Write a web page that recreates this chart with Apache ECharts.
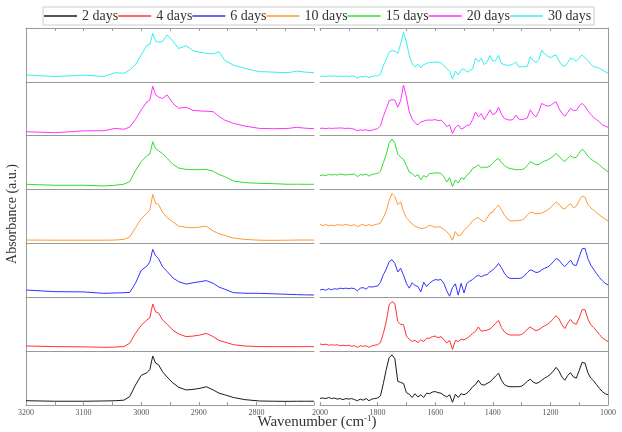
<!DOCTYPE html>
<html><head><meta charset="utf-8">
<script src="https://cdn.jsdelivr.net/npm/echarts@6/dist/echarts.min.js"></script>
<style>html,body{margin:0;padding:0;background:#fff}#c{width:622px;height:432px}</style>
</head><body><div id="c"></div>
<script>
const days = ['2 days','4 days','6 days','10 days','15 days','20 days','30 days'];
const colors = ['#1a1a1a','#ff3333','#3333ff','#ff9933','#33dd33','#ff33ff','#33f0f0'];
const leftTickLabels = [3200,3100,3000,2900,2800];
const rightTickLabels = [2000,1800,1600,1400,1200,1000];

const wnLeft = [3200,3150,3100,3065,3045, 3030,3020,3010,3000,2990, 2985,2980,2975,2970,2963,
  2955,2945,2935,2922,2910, 2898,2887,2875,2865,2855, 2840,2820,2795,2770,2745, 2730,2715,2700];
const left30 = [0.128,0.10,0.125,0.10,0.17, 0.16,0.22,0.32,0.50,0.68, 0.70,0.90,0.76,0.74,0.75,
  0.87,0.76,0.62,0.67,0.58, 0.55,0.53,0.52,0.56,0.40, 0.31,0.25,0.19,0.18,0.17, 0.20,0.18,0.17];
const left20 = [0.074,0.056,0.09,0.093,0.136, 0.12,0.16,0.30,0.48,0.63, 0.66,0.92,0.76,0.72,0.69,
  0.76,0.60,0.51,0.53,0.47, 0.46,0.455,0.446,0.36,0.29, 0.23,0.18,0.136,0.13,0.136, 0.155,0.14,0.13];
const left15 = [0.098,0.08,0.08,0.067,0.08, 0.10,0.147,0.35,0.52,0.63, 0.66,0.89,0.76,0.72,0.67,
  0.58,0.47,0.40,0.375,0.37, 0.37,0.375,0.34,0.28,0.24, 0.16,0.13,0.115,0.11,0.098, 0.10,0.098,0.098];
const left10 = [0.063,0.06,0.06,0.06,0.063, 0.075,0.12,0.29,0.46,0.56, 0.62,0.91,0.74,0.73,0.58,
  0.48,0.40,0.32,0.30,0.29, 0.305,0.32,0.23,0.18,0.15, 0.10,0.075,0.06,0.057,0.06, 0.063,0.063,0.063];
const left6 = [0.135,0.105,0.10,0.073,0.08, 0.085,0.09,0.26,0.50,0.58, 0.66,0.89,0.77,0.72,0.57,
  0.48,0.36,0.29,0.245,0.27, 0.29,0.31,0.26,0.19,0.15, 0.086,0.075,0.073,0.065,0.055, 0.05,0.045,0.043];
const left4 = [0.096,0.085,0.08,0.072,0.075, 0.085,0.146,0.33,0.48,0.58, 0.62,0.875,0.73,0.71,0.58,
  0.50,0.39,0.32,0.27,0.28, 0.30,0.33,0.27,0.20,0.17, 0.12,0.095,0.085,0.084,0.084, 0.084,0.084,0.084];
const left2 = [0.08,0.07,0.07,0.075,0.08, 0.09,0.155,0.37,0.55,0.60, 0.66,0.91,0.78,0.75,0.62,
  0.52,0.41,0.33,0.28,0.29, 0.31,0.34,0.28,0.22,0.19, 0.14,0.10,0.075,0.07,0.068, 0.07,0.07,0.07];

const wnRight = [2000,1990,1980,1970,1960,1950,1940,1930,1920,1910,
  1900,1890,1880,1870,1860,1850,1840,1830,1820,1810,
  1800,1790,1780,1770,1760,1750,1740,1730,1720,1710,
  1700,1690,1680,1670,1660,1650,1640,1630,1620,1610,
  1600,1590,1580,1570,1560,1550,1540,1530,1520,1510,
  1500,1490,1480,1470,1460,1450,1440,1430,1420,1410,
  1400,1390,1380,1370,1360,1350,1340,1330,1320,1310,
  1300,1290,1280,1270,1260,1250,1240,1230,1220,1210,
  1200,1190,1180,1170,1160,1150,1140,1130,1120,1110,
  1100,1090,1080,1070,1060,1050,1040,1030,1020,1010,1000];
const right30 = [0.10,0.11,0.10,0.11,0.10,0.11,0.10,0.11,0.10,0.11,
  0.10,0.11,0.10,0.07,0.10,0.09,0.11,0.08,0.10,0.11,
  0.11,0.14,0.30,0.42,0.55,0.58,0.57,0.53,0.70,0.92,
  0.74,0.49,0.33,0.28,0.33,0.26,0.32,0.34,0.36,0.36,
  0.37,0.36,0.36,0.30,0.25,0.20,0.05,0.20,0.13,0.22,
  0.24,0.18,0.21,0.24,0.44,0.37,0.44,0.32,0.36,0.49,
  0.38,0.40,0.49,0.34,0.32,0.31,0.31,0.33,0.37,0.28,
  0.28,0.28,0.29,0.47,0.40,0.35,0.42,0.59,0.52,0.48,
  0.45,0.48,0.50,0.39,0.31,0.29,0.36,0.44,0.42,0.38,
  0.44,0.50,0.45,0.40,0.33,0.28,0.27,0.25,0.22,0.19,0.16];
const right20 = [0.136,0.14,0.13,0.14,0.135,0.14,0.14,0.145,0.14,0.135,
  0.14,0.13,0.12,0.09,0.11,0.10,0.11,0.09,0.10,0.12,
  0.13,0.18,0.36,0.50,0.65,0.67,0.66,0.53,0.65,0.94,
  0.72,0.44,0.31,0.24,0.20,0.26,0.27,0.29,0.29,0.29,
  0.30,0.28,0.29,0.24,0.17,0.20,0.04,0.15,0.20,0.12,
  0.15,0.19,0.20,0.30,0.44,0.35,0.41,0.30,0.38,0.48,
  0.39,0.42,0.53,0.40,0.32,0.30,0.29,0.30,0.38,0.31,
  0.30,0.31,0.33,0.48,0.40,0.35,0.45,0.60,0.57,0.55,
  0.56,0.60,0.63,0.50,0.42,0.36,0.43,0.51,0.47,0.47,
  0.55,0.60,0.55,0.46,0.40,0.34,0.30,0.26,0.20,0.18,0.155];
const right15 = [0.26,0.27,0.26,0.28,0.27,0.28,0.27,0.29,0.28,0.27,
  0.28,0.28,0.29,0.24,0.28,0.27,0.29,0.25,0.28,0.29,
  0.30,0.34,0.50,0.65,0.86,0.94,0.86,0.66,0.60,0.56,
  0.45,0.32,0.30,0.24,0.28,0.18,0.26,0.23,0.30,0.30,
  0.31,0.31,0.30,0.24,0.14,0.22,0.055,0.18,0.12,0.22,
  0.19,0.27,0.31,0.39,0.42,0.46,0.40,0.42,0.41,0.44,
  0.49,0.55,0.58,0.50,0.45,0.41,0.39,0.38,0.37,0.37,
  0.37,0.39,0.45,0.52,0.49,0.46,0.47,0.50,0.53,0.55,
  0.58,0.62,0.67,0.62,0.56,0.52,0.58,0.63,0.59,0.60,
  0.68,0.75,0.70,0.62,0.57,0.53,0.50,0.46,0.41,0.37,0.33];
const right10 = [0.354,0.33,0.35,0.33,0.34,0.33,0.35,0.34,0.34,0.35,
  0.34,0.33,0.35,0.31,0.34,0.35,0.33,0.35,0.33,0.35,
  0.36,0.38,0.48,0.60,0.80,0.93,0.87,0.72,0.77,0.59,
  0.48,0.42,0.36,0.32,0.30,0.28,0.28,0.30,0.34,0.32,
  0.30,0.31,0.30,0.26,0.22,0.16,0.06,0.22,0.14,0.16,
  0.24,0.30,0.35,0.42,0.46,0.48,0.43,0.40,0.47,0.56,
  0.58,0.66,0.71,0.62,0.53,0.46,0.42,0.42,0.42,0.43,
  0.43,0.46,0.53,0.58,0.57,0.55,0.56,0.56,0.59,0.62,
  0.66,0.72,0.77,0.73,0.66,0.64,0.70,0.74,0.66,0.69,
  0.80,0.88,0.86,0.72,0.66,0.62,0.57,0.53,0.49,0.45,0.42];
const right6 = [0.135,0.15,0.13,0.16,0.14,0.16,0.15,0.17,0.16,0.17,
  0.16,0.17,0.16,0.12,0.17,0.18,0.15,0.20,0.19,0.20,
  0.21,0.28,0.42,0.52,0.66,0.70,0.63,0.47,0.54,0.41,
  0.26,0.17,0.27,0.22,0.20,0.10,0.28,0.20,0.26,0.30,
  0.33,0.32,0.33,0.26,0.12,0.02,0.18,0.25,0.04,0.26,
  0.08,0.26,0.30,0.33,0.38,0.41,0.38,0.41,0.42,0.47,
  0.51,0.56,0.63,0.55,0.45,0.38,0.35,0.35,0.35,0.35,
  0.36,0.40,0.46,0.51,0.49,0.46,0.47,0.51,0.54,0.56,
  0.60,0.66,0.72,0.69,0.62,0.57,0.63,0.69,0.60,0.59,
  0.75,0.90,0.91,0.72,0.60,0.52,0.44,0.37,0.31,0.26,0.23];
const right4 = [0.134,0.12,0.13,0.11,0.12,0.11,0.12,0.10,0.11,0.10,
  0.11,0.09,0.10,0.07,0.10,0.09,0.10,0.07,0.10,0.11,
  0.12,0.16,0.33,0.55,0.86,0.92,0.88,0.55,0.50,0.49,
  0.28,0.22,0.18,0.20,0.16,0.21,0.18,0.24,0.24,0.27,
  0.28,0.25,0.27,0.22,0.15,0.20,0.03,0.20,0.18,0.22,
  0.21,0.24,0.28,0.33,0.37,0.45,0.37,0.38,0.39,0.41,
  0.46,0.52,0.57,0.44,0.36,0.32,0.30,0.30,0.30,0.30,
  0.31,0.35,0.41,0.45,0.41,0.38,0.40,0.44,0.47,0.50,
  0.54,0.60,0.66,0.60,0.49,0.42,0.52,0.59,0.52,0.50,
  0.62,0.77,0.77,0.60,0.49,0.44,0.38,0.31,0.25,0.21,0.18];
const right2 = [0.124,0.13,0.12,0.14,0.12,0.13,0.11,0.12,0.10,0.12,
  0.11,0.12,0.10,0.08,0.11,0.09,0.12,0.08,0.11,0.12,
  0.13,0.17,0.40,0.66,0.88,0.93,0.86,0.44,0.42,0.40,
  0.23,0.20,0.14,0.21,0.15,0.19,0.14,0.22,0.21,0.24,
  0.25,0.23,0.22,0.18,0.15,0.19,0.05,0.20,0.14,0.21,
  0.19,0.22,0.27,0.34,0.38,0.46,0.38,0.37,0.40,0.43,
  0.48,0.54,0.59,0.46,0.38,0.35,0.34,0.34,0.34,0.34,
  0.35,0.39,0.44,0.48,0.43,0.40,0.42,0.46,0.50,0.53,
  0.57,0.63,0.70,0.63,0.52,0.46,0.55,0.60,0.52,0.50,
  0.64,0.79,0.78,0.60,0.50,0.45,0.38,0.31,0.25,0.21,0.19];

const leftData = [left2,left4,left6,left10,left15,left20,left30];
const rightData = [right2,right4,right6,right10,right15,right20,right30];

const FONT = 'Liberation Serif';
const LINE = '#9a9a9a';
const TOP = 28, ROWH = 53.86, LX = 26, LW = 288, RX = 320, RW = 288;
const grid = [], xAxis = [], yAxis = [], series = [];

function xAx(gi, side, last, pos) {
  const isL = side === 'L';
  return {
    type: 'value', gridIndex: gi, position: pos || 'bottom',
    min: isL ? 2700 : 1000, max: isL ? 3200 : 2000, inverse: true,
    interval: isL ? 50 : 100,
    axisLine: { show: true, onZero: false, lineStyle: { color: LINE, width: 1 } },
    axisTick: { show: last, inside: true, length: 3, lineStyle: { color: LINE } },
    axisLabel: {
      show: last && pos !== 'top', margin: 4, fontFamily: FONT, fontSize: 8, color: '#555',
      formatter: v => (isL ? leftTickLabels : rightTickLabels).includes(v) ? String(v) : ''
    },
    splitLine: { show: false }
  };
}
function yAx(gi, pos) {
  return {
    type: 'value', gridIndex: gi, min: 0, max: 1, position: pos,
    axisLine: { show: true, onZero: false, lineStyle: { color: LINE, width: 1 } },
    axisTick: { show: false }, axisLabel: { show: false }, splitLine: { show: false }
  };
}

for (let r = 0; r < 7; r++) {
  const s = 6 - r;
  const top = TOP + r * ROWH;
  const last = r === 6;
  grid.push({ left: LX, top: top, width: LW, height: ROWH });
  grid.push({ left: RX, top: top, width: RW, height: ROWH });
  xAxis.push(xAx(2 * r, 'L', last));
  xAxis.push(xAx(2 * r + 1, 'R', last));
  yAxis.push(yAx(2 * r, 'left'));
  yAxis.push(yAx(2 * r + 1, 'right'));
  const common = {
    type: 'line', name: days[s], symbol: 'none', showSymbol: false,
    lineStyle: { width: 1, color: colors[s] }, itemStyle: { color: colors[s] },
    animation: false
  };
  series.push(Object.assign({}, common, {
    xAxisIndex: 2 * r, yAxisIndex: 2 * r,
    data: wnLeft.map((w, i) => [w, leftData[s][i]])
  }));
  series.push(Object.assign({}, common, {
    xAxisIndex: 2 * r + 1, yAxisIndex: 2 * r + 1,
    data: wnRight.map((w, i) => [w, rightData[s][i]])
  }));
}
xAxis.push(xAx(0, 'L', true, 'top'));
xAxis.push(xAx(1, 'R', true, 'top'));

const chart = echarts.init(document.getElementById('c'), null, { renderer: 'canvas' });
chart.setOption({
  animation: false,
  backgroundColor: '#fff',
  legend: {
    data: days, left: 43, top: 7, orient: 'horizontal',
    borderColor: '#cccccc', borderWidth: 1, padding: [2, 3, 2, 1],
    itemGap: 0, itemWidth: 33, itemHeight: 1.5, icon: 'rect',
    textStyle: { fontFamily: FONT, fontSize: 14, color: '#333' }
  },
  grid: grid, xAxis: xAxis, yAxis: yAxis, series: series,
  graphic: [
    { type: 'text', x: 12.5, y: 214, rotation: Math.PI / 2,
      style: { text: 'Absorbance (a.u.)', fontFamily: FONT, fontSize: 14, fill: '#333',
        align: 'center', verticalAlign: 'middle' } },
    { type: 'text', x: 317, y: 422,
      style: { text: 'Wavenumber (cm{sup|-1})', fontFamily: FONT, fontSize: 15, fill: '#333',
        align: 'center', verticalAlign: 'middle',
        rich: { sup: { fontFamily: FONT, fontSize: 9, verticalAlign: 'top', fill: '#333' } } } }
  ]
});
</script></body></html>
